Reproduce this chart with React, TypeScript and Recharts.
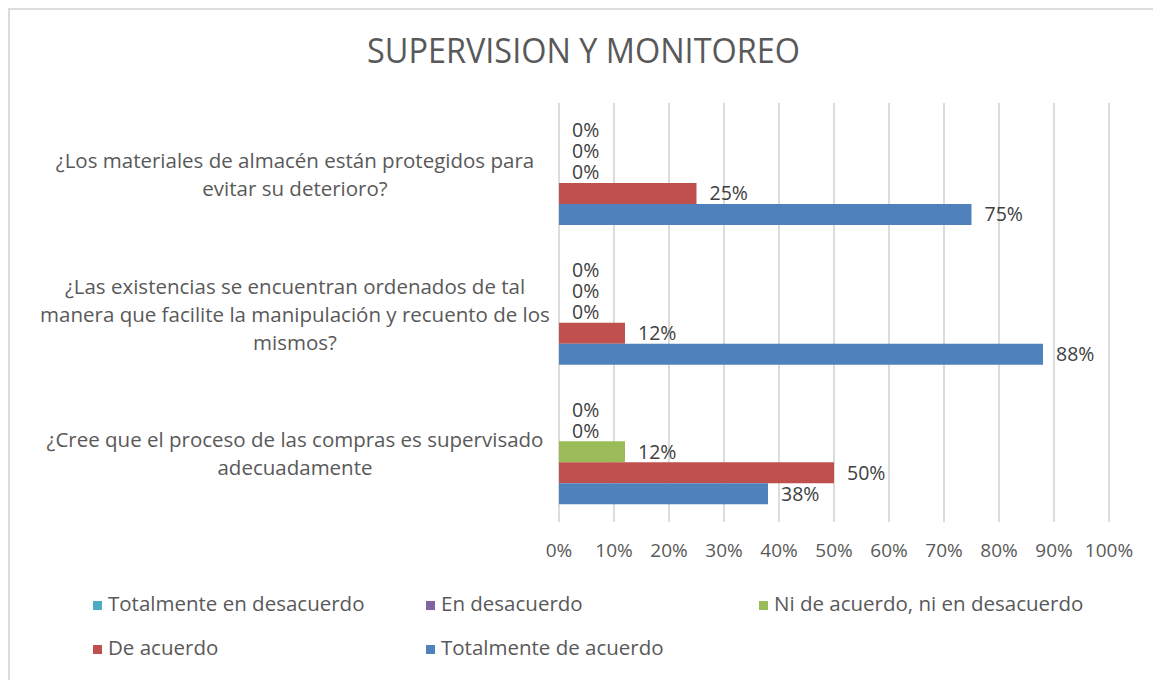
import React from 'react';
import { BarChart, Bar, XAxis, YAxis, CartesianGrid, LabelList, Legend } from 'recharts';

const categories = [
  '¿Los materiales de almacén están protegidos para evitar su deterioro?',
  '¿Las existencias se encuentran ordenados de tal manera que facilite la manipulación y recuento de los mismos?',
  '¿Cree que el proceso de las compras es supervisado adecuadamente',
];
const totalmenteDesacuerdo = [0, 0, 0];
const enDesacuerdo = [0, 0, 0];
const niNi = [0, 0, 12];
const deAcuerdo = [25, 12, 50];
const totalmenteAcuerdo = [75, 88, 38];
const xTicks = [0, 10, 20, 30, 40, 50, 60, 70, 80, 90, 100];

const seriesNames = [
  'Totalmente en desacuerdo',
  'En desacuerdo',
  'Ni de acuerdo, ni en desacuerdo',
  'De acuerdo',
  'Totalmente de acuerdo',
];
const seriesColors = ['#4BACC6', '#8064A2', '#9BBB59', '#C0504D', '#4F81BD'];
const seriesKeys = ['tdes', 'des', 'ni', 'acu', 'tacu'];
const seriesValues = [totalmenteDesacuerdo, enDesacuerdo, niNi, deAcuerdo, totalmenteAcuerdo];

const data = categories.map((name, i) => {
  const row: any = { name };
  seriesKeys.forEach((k, s) => {
    row[k] = seriesValues[s][i];
  });
  return row;
});

const FONT = "'Open Sans', 'Noto Sans', sans-serif";
const TEXT = '#595959';

function wrap(text: string, max: number): string[] {
  const words = text.split(' ');
  const lines: string[] = [];
  let cur = '';
  for (const w of words) {
    const next = cur ? cur + ' ' + w : w;
    if (next.length > max && cur) {
      lines.push(cur);
      cur = w;
    } else {
      cur = next;
    }
  }
  if (cur) lines.push(cur);
  return lines;
}

const YTick = (props: any) => {
  const { x, y, payload } = props;
  const lines = wrap(String(payload.value), 53);
  const lh = 28;
  const startY = y - ((lines.length - 1) * lh) / 2 + 2;
  return (
    <g>
      {lines.map((l, i) => (
        <text
          key={i}
          x={x - 264}
          y={startY + i * lh}
          dy="0.35em"
          textAnchor="middle"
          fill={TEXT}
          fontSize={20.5}
          fontFamily={FONT}
        >
          {l}
        </text>
      ))}
    </g>
  );
};

const XTick = (props: any) => {
  const { x, y, payload } = props;
  return (
    <text x={x} y={y + 35} textAnchor="middle" fill={TEXT} fontSize={19} fontFamily={FONT}>
      {payload.value + '%'}
    </text>
  );
};

const LegendContent = (props: any) => {
  const payload = [...(props.payload || [])].sort(
    (a: any, b: any) => seriesNames.indexOf(a.value) - seriesNames.indexOf(b.value)
  );
  return (
    <div style={{ display: 'flex', flexWrap: 'wrap', width: 1000, fontFamily: FONT }}>
      {payload.map((p: any, i: number) => (
        <div key={i} style={{ width: 333, height: 44, display: 'flex', alignItems: 'center' }}>
          <span
            style={{
              display: 'inline-block',
              width: 9,
              height: 9,
              background: p.color,
              marginRight: 6,
              marginTop: 4,
            }}
          />
          <span style={{ fontSize: 20.5, color: TEXT }}>{p.value}</span>
        </div>
      ))}
    </div>
  );
};

export default function App() {
  return (
    <div
      style={{
        position: 'relative',
        width: 1153,
        height: 680,
        borderTop: '2px solid #dcdcdc',
        borderLeft: '2px solid #dcdcdc',
        borderRight: '2px solid #dcdcdc',
        boxSizing: 'border-box',
        background: '#fff',
      }}
    >
      <style>{'html,body{overflow:hidden}'}</style>
      <svg width={1149} height={80} style={{ position: 'absolute', left: 0, top: 0 }}>
        <text
          x={573.5}
          y={53}
          textAnchor="middle"
          fill={TEXT}
          fontSize={34}
          fontFamily={FONT}
          textLength={433}
          lengthAdjust="spacingAndGlyphs"
        >
          SUPERVISION Y MONITOREO
        </text>
      </svg>
      <BarChart
        width={1149}
        height={670}
        data={data}
        layout="vertical"
        margin={{ top: 93, right: 50, bottom: 128, left: 0 }}
        barGap={0}
        barSize={21}
      >
        <CartesianGrid horizontal={false} stroke="#dcdcdc" strokeWidth={2} />
        <XAxis
          type="number"
          domain={[0, 100]}
          ticks={xTicks}
          axisLine={false}
          tickLine={false}
          tickSize={0}
          tickMargin={0}
          tick={<XTick />}
          interval={0}
          height={30}
        />
        <YAxis
          type="category"
          dataKey="name"
          width={549}
          axisLine={false}
          tickLine={false}
          tickSize={0}
          tickMargin={0}
          tick={<YTick />}
          interval={0}
        />
        <Legend
          layout="horizontal"
          verticalAlign="middle"
          align="center"
          content={<LegendContent />}
          wrapperStyle={{ top: 571, left: 83, width: 1000 }}
        />
        {seriesKeys.map((k, s) => (
          <Bar
            key={k}
            dataKey={k}
            name={seriesNames[s]}
            fill={seriesColors[s]}
            minPointSize={0.01}
            isAnimationActive={false}
          >
            <LabelList
              dataKey={k}
              position="right"
              offset={13}
              formatter={(v: any) => v + '%'}
              fill="#404040"
              fontSize={19.5}
              fontFamily={FONT}
            />
          </Bar>
        ))}
      </BarChart>
    </div>
  );
}
